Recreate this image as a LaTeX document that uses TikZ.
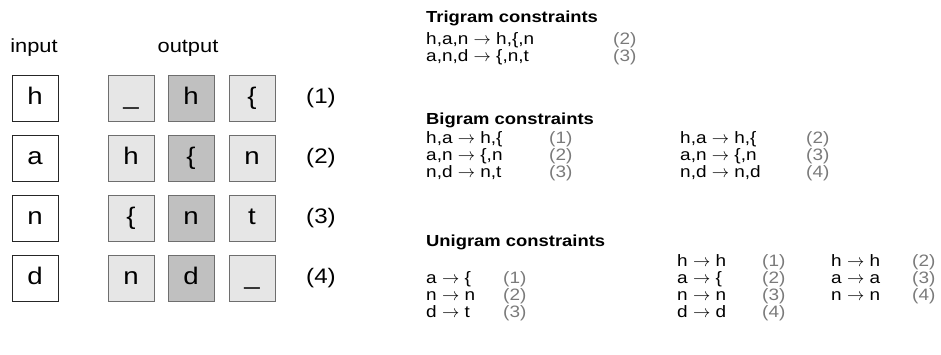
\documentclass[tikz,border=0pt]{standalone}
\usepackage{fontspec}
\setmainfont{Liberation Sans}[FakeStretch=1.15]
\definecolor{boxlight}{HTML}{E6E6E6}
\definecolor{boxdark}{HTML}{C0C0C0}
\definecolor{boxline}{HTML}{6E6E6E}
\definecolor{numgray}{HTML}{7A7A7A}
\begin{document}
\begin{tikzpicture}[x=1pt, y=-1pt,
  cell/.style={draw, minimum width=46pt, minimum height=46pt, inner sep=0pt,
    text height=18pt, text depth=5pt, font=\fontsize{24}{24}\selectfont},
  inbox/.style={cell, draw=black!85, fill=white},
  outlight/.style={cell, draw=boxline, fill=boxlight},
  outdark/.style={cell, draw=boxline, fill=boxdark},
  caption/.style={inner sep=0pt, font=\fontsize{19}{19}\selectfont},
  poslabel/.style={inner sep=0pt, font=\fontsize{21}{21}\selectfont},
  header/.style={anchor=base west, inner sep=0pt, font=\fontsize{16}{16}\selectfont\bfseries},
  rule/.style={anchor=base west, inner sep=0pt, font=\fontsize{16.5}{16.5}\selectfont},
  num/.style={rule, text=numgray}]
  \useasboundingbox (0,0) rectangle (941,354);
  % input / output grid
  \node[caption] (intitle) at (34,48) {input};
  \node[caption] (outtitle) at (188,48) {output};
  \foreach \ch/\ca/\cb/\cc [count=\r, evaluate=\r as \y using 38+60*\r] in
      {h/\_/h/\{, a/h/\{/n, n/\{/n/t, d/n/d/\_} {
    \node[inbox] (in\r) at (35,\y) {\ch};
    \node[outlight] (prev\r) at (131,\y) {\ca};
    \node[outdark] (cur\r) at (191,\y) {\cb};
    \node[outlight] (next\r) at (252,\y) {\cc};
    \node[poslabel] (pos\r) at (321,\y) {(\r)};
  }
  % trigram constraints
  \node[header] (trihead) at (426,22) {Trigram constraints};
  \node[rule] (tri1) at (426,44) {h,a,n $\rightarrow$ h,\{,n};
  \node[num] (tri1n) at (613,44) {(2)};
  \node[rule] (tri2) at (426,61) {a,n,d $\rightarrow$ \{,n,t};
  \node[num] (tri2n) at (613,61) {(3)};
  % bigram constraints
  \node[header] (bihead) at (426,124) {Bigram constraints};
  \node[rule] (bia1) at (426,143) {h,a $\rightarrow$ h,\{};
  \node[num] (bia1n) at (549,143) {(1)};
  \node[rule] (bia2) at (426,160) {a,n $\rightarrow$ \{,n};
  \node[num] (bia2n) at (549,160) {(2)};
  \node[rule] (bia3) at (426,177) {n,d $\rightarrow$ n,t};
  \node[num] (bia3n) at (549,177) {(3)};
  \node[rule] (bib1) at (680,143) {h,a $\rightarrow$ h,\{};
  \node[num] (bib1n) at (806,143) {(2)};
  \node[rule] (bib2) at (680,160) {a,n $\rightarrow$ \{,n};
  \node[num] (bib2n) at (806,160) {(3)};
  \node[rule] (bib3) at (680,177) {n,d $\rightarrow$ n,d};
  \node[num] (bib3n) at (806,177) {(4)};
  % unigram constraints
  \node[header] (unihead) at (426,246) {Unigram constraints};
  \node[rule] (unia2) at (426,283) {a $\rightarrow$ \{};
  \node[num] (unia2n) at (503,283) {(1)};
  \node[rule] (unia3) at (426,300) {n $\rightarrow$ n};
  \node[num] (unia3n) at (503,300) {(2)};
  \node[rule] (unia4) at (426,317) {d $\rightarrow$ t};
  \node[num] (unia4n) at (503,317) {(3)};
  \node[rule] (unib1) at (677,266) {h $\rightarrow$ h};
  \node[num] (unib1n) at (762,266) {(1)};
  \node[rule] (unib2) at (677,283) {a $\rightarrow$ \{};
  \node[num] (unib2n) at (762,283) {(2)};
  \node[rule] (unib3) at (677,300) {n $\rightarrow$ n};
  \node[num] (unib3n) at (762,300) {(3)};
  \node[rule] (unib4) at (677,317) {d $\rightarrow$ d};
  \node[num] (unib4n) at (762,317) {(4)};
  \node[rule] (unic1) at (831,266) {h $\rightarrow$ h};
  \node[num] (unic1n) at (912,266) {(2)};
  \node[rule] (unic2) at (831,283) {a $\rightarrow$ a};
  \node[num] (unic2n) at (912,283) {(3)};
  \node[rule] (unic3) at (831,300) {n $\rightarrow$ n};
  \node[num] (unic3n) at (912,300) {(4)};
\end{tikzpicture}
\end{document}
